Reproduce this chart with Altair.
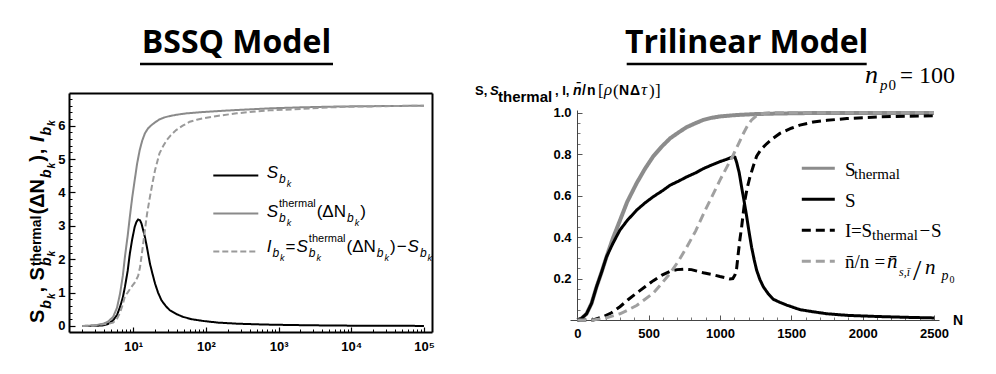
import altair as alt
import pandas as pd

# ---------------- BSSQ model (left panel) ----------------
bssq_S_k = [2, 3, 3.9, 4.5, 5.3, 6, 6.6, 7.2, 7.7, 8.4, 9, 9.7, 10.5, 11.1, 11.7, 12.4, 13, 14.5,
            15.5, 17, 18.5, 20, 22, 24.5, 28, 32, 40, 49, 65, 92, 150, 265, 500, 760, 2000, 5000,
            10000, 30000, 100000]
bssq_S = [0, 0.005, 0.02, 0.06, 0.17, 0.33, 0.57, 0.85, 1.17, 1.65, 2.17, 2.6, 2.97, 3.12, 3.19,
          3.17, 3.07, 2.67, 2.35, 1.87, 1.55, 1.27, 1.0, 0.77, 0.6, 0.47, 0.35, 0.27, 0.2, 0.15,
          0.1, 0.07, 0.05, 0.04, 0.025, 0.015, 0.01, 0.005, 0.003]
bssq_Sth_k = [2, 3, 3.9, 4.5, 5.3, 6, 6.6, 7.2, 7.7, 8.4, 9, 9.7, 10.5, 11.3, 12.3, 13.3, 14.5, 16,
              17.9, 20, 23, 27, 32, 40, 54, 92, 150, 265, 500, 760, 2000, 5000, 10000, 30000, 100000]
bssq_Sth = [0, 0.02, 0.07, 0.13, 0.27, 0.55, 0.97, 1.5, 2.07, 2.7, 3.27, 3.85, 4.37, 4.85, 5.27,
            5.55, 5.77, 5.92, 6.02, 6.1, 6.19, 6.25, 6.29, 6.33, 6.37, 6.41, 6.44, 6.47, 6.5, 6.52,
            6.55, 6.57, 6.58, 6.59, 6.6]
bssq_I_k = [2, 3, 3.9, 4.5, 5.3, 6, 6.6, 7.2, 7.7, 8.4, 9, 9.7, 10.5, 11.1, 11.7, 12.4, 13, 14.5,
            15.5, 17, 18.5, 20, 23, 26, 29, 33, 39, 48, 60, 75, 92, 150, 265, 500, 760, 2000, 5000,
            10000, 30000, 100000]
bssq_I = [0, 0.015, 0.05, 0.07, 0.1, 0.22, 0.4, 0.65, 0.9, 1.0, 1.1, 1.2, 1.3, 1.4, 1.5, 1.75,
          2.07, 2.87, 3.35, 3.87, 4.3, 4.67, 5.17, 5.4, 5.57, 5.72, 5.87, 6.0, 6.12, 6.18, 6.22,
          6.3, 6.37, 6.43, 6.46, 6.5, 6.55, 6.57, 6.585, 6.6]

# ---------------- Trilinear model (right panel) ----------------
tri_S_N = [0, 30, 65, 100, 135, 170, 205, 250, 299, 350, 416, 475, 533, 600, 650, 710, 766, 830,
           883, 940, 1000, 1050, 1093, 1105, 1117, 1135, 1152, 1170, 1187, 1205, 1222, 1240, 1257,
           1280, 1304, 1340, 1374, 1420, 1467, 1560, 1650, 1750, 1900, 2100, 2300, 2500]
tri_S = [0, 0.008, 0.03, 0.08, 0.16, 0.23, 0.305, 0.37, 0.434, 0.48, 0.53, 0.565, 0.595, 0.625,
         0.65, 0.67, 0.69, 0.71, 0.73, 0.747, 0.764, 0.776, 0.788, 0.785, 0.76, 0.71, 0.64, 0.57,
         0.5, 0.42, 0.35, 0.29, 0.24, 0.195, 0.16, 0.125, 0.1, 0.085, 0.072, 0.05, 0.04, 0.03,
         0.022, 0.017, 0.013, 0.01]
tri_Sth_N = [0, 30, 65, 100, 135, 170, 205, 250, 299, 350, 416, 475, 533, 590, 650, 710, 766, 830,
             883, 940, 1000, 1100, 1234, 1400, 1600, 2000, 2500]
tri_Sth = [0, 0.008, 0.03, 0.08, 0.16, 0.23, 0.305, 0.395, 0.48, 0.57, 0.66, 0.73, 0.79, 0.835,
           0.876, 0.905, 0.93, 0.95, 0.965, 0.975, 0.982, 0.988, 0.993, 0.996, 0.998, 0.998, 0.998]
tri_I_N = [0, 112, 182, 240, 299, 360, 416, 475, 533, 590, 650, 700, 743, 800, 883, 940, 1000,
           1040, 1070, 1090, 1105, 1117, 1128, 1140, 1152, 1164, 1175, 1192, 1210, 1235, 1257,
           1290, 1327, 1370, 1420, 1500, 1560, 1654, 1750, 1889, 2121, 2300, 2500]
tri_I = [0, 0, 0.016, 0.035, 0.064, 0.1, 0.13, 0.16, 0.19, 0.215, 0.235, 0.243, 0.245, 0.243,
         0.228, 0.22, 0.21, 0.204, 0.198, 0.2, 0.217, 0.25, 0.32, 0.39, 0.45, 0.52, 0.58, 0.64,
         0.69, 0.745, 0.79, 0.825, 0.85, 0.875, 0.9, 0.925, 0.94, 0.955, 0.963, 0.972, 0.98,
         0.983, 0.985]
tri_nbar_N = [0, 112, 200, 299, 360, 416, 475, 533, 590, 650, 710, 766, 830, 883, 940, 1000, 1050,
              1093, 1130, 1164, 1195, 1222, 1255, 1292, 1350, 1500, 2000, 2500]
tri_nbar = [0, 0, 0.01, 0.03, 0.05, 0.07, 0.1, 0.13, 0.175, 0.225, 0.285, 0.35, 0.43, 0.51, 0.59,
            0.675, 0.74, 0.796, 0.85, 0.9, 0.94, 0.965, 0.985, 0.995, 1.0, 1.0, 1.0, 1.0]

left_names = ["S_bk", "S_bk^thermal(ΔN_bk)", "I_bk=S_bk^thermal(ΔN_bk)−S_bk"]
left_colors = ["#000000", "#8a8a8a", "#9a9a9a"]
left_dashes = [[1, 0], [1, 0], [6, 3]]
right_names = ["S_thermal", "S", "I=S_thermal−S", "n̄/n"]
right_colors = ["#8c8c8c", "#000000", "#000000", "#a0a0a0"]
right_dashes = [[1, 0], [1, 0], [9, 5], [9, 5]]

panel_titles = ["BSSQ Model", "Trilinear Model"]

# ---------------- layout (page pixels -> chart pixels) ----------------
W, H = 980, 358
SANS, SERIF = "Liberation Sans", "Liberation Serif"


def P(v):
    return v - 8


LX = alt.Scale(type="log", domain=[1.31, 129000], range=[P(69), P(432)], nice=False)
LY = alt.Scale(domain=[-0.18, 6.98], range=[P(332), P(93)], nice=False, zero=False)
RX = alt.Scale(domain=[-51, 2535], range=[P(570), P(939)], nice=False, zero=False)
RY = alt.Scale(domain=[0, 1.013], range=[P(320), P(110)], nice=False, zero=False)

left_df = pd.concat([
    pd.DataFrame({"k": bssq_S_k, "v": bssq_S, "series": left_names[0]}),
    pd.DataFrame({"k": bssq_Sth_k, "v": bssq_Sth, "series": left_names[1]}),
    pd.DataFrame({"k": bssq_I_k, "v": bssq_I, "series": left_names[2]}),
], ignore_index=True)
right_df = pd.concat([
    pd.DataFrame({"N": tri_Sth_N, "v": tri_Sth, "series": right_names[0]}),
    pd.DataFrame({"N": tri_S_N, "v": tri_S, "series": right_names[1]}),
    pd.DataFrame({"N": tri_I_N, "v": tri_I, "series": right_names[2]}),
    pd.DataFrame({"N": tri_nbar_N, "v": tri_nbar, "series": right_names[3]}),
], ignore_index=True)

LABEL = dict(labelFont=SANS, labelFontWeight="bold", labelFontSize=13, labelColor="black",
             grid=False, title=None, labelOverlap=False, labelFlush=False)
TICKS = dict(labels=False, domain=False, grid=False, title=None, ticks=True)


def guide_layer(xs, ys, xdom, ydom, xaxis, yaxis):
    d = pd.DataFrame({"x": xdom, "y": ydom})
    return alt.Chart(d).mark_point(opacity=0).encode(
        x=alt.X("x:Q", scale=xs, axis=xaxis), y=alt.Y("y:Q", scale=ys, axis=yaxis))


LXD, LYD = [1.31, 129000], [-0.18, 6.98]
RXD, RYD = [-51, 2535], [0, 1.013]
lx_major = [10, 100, 1000, 10000, 100000]
lx_minor = [m * d for d in [1, 10, 100, 1000, 10000] for m in range(2, 10)]
ly_major = list(range(7))
ly_minor = [round(i * 0.2, 1) for i in range(35) if i % 5]
rx_major = list(range(0, 2501, 500))
rx_minor = [v for v in range(0, 2501, 100) if v % 500]
ry_major = [0.2, 0.4, 0.6, 0.8, 1.0]
ry_minor = [round(i * 0.05, 2) for i in range(21) if i % 4]

sup_expr = "'10' + ['\u2070','\u00b9','\u00b2','\u00b3','\u2074','\u2075'][round(log(datum.value)/LN10)]"

layers = []
# left frame top/right lines
layers.append(guide_layer(LX, LY, LXD, LYD,
    alt.Axis(orient="bottom", offset=P(93) - H, labels=False, ticks=False, tickSize=0, grid=False,
             title=None, domainColor="black", domainWidth=2),
    alt.Axis(orient="left", offset=-P(432), labels=False, ticks=False, tickSize=0, grid=False,
             title=None, domainColor="black", domainWidth=2)))
# left inward ticks
layers.append(guide_layer(LX, LY, LXD, LYD,
    alt.Axis(orient="top", offset=-P(332), values=lx_major, tickSize=5, tickColor="black", tickWidth=1.2, **TICKS),
    alt.Axis(orient="right", offset=P(69) - W, values=ly_major, tickSize=6, tickColor="black", tickWidth=1.2, **TICKS)))
layers.append(guide_layer(LX, LY, LXD, LYD,
    alt.Axis(orient="top", offset=-P(332), values=lx_minor, tickSize=3, tickColor="black", tickWidth=1, **TICKS),
    alt.Axis(orient="right", offset=P(69) - W, values=ly_minor, tickSize=3, tickColor="black", tickWidth=1, **TICKS)))
# right inward ticks
layers.append(guide_layer(RX, RY, RXD, RYD,
    alt.Axis(orient="top", offset=-P(320), values=rx_major, tickSize=5, tickColor="#555", tickWidth=1, **TICKS),
    alt.Axis(orient="right", offset=P(577) - W, values=ry_major, tickSize=5, tickColor="#555", tickWidth=1, **TICKS)))
layers.append(guide_layer(RX, RY, RXD, RYD,
    alt.Axis(orient="top", offset=-P(320), values=rx_minor, tickSize=3, tickColor="#777", tickWidth=1, **TICKS),
    alt.Axis(orient="right", offset=P(577) - W, values=ry_minor, tickSize=3, tickColor="#777", tickWidth=1, **TICKS)))

# legends: one row per entry, row height = labelFontSize (legend's own labels are empty,
# the rich-text labels are drawn separately)
L_STEP, R_STEP = 36.75, 30.45
left_legend = alt.Legend(orient="none", legendX=P(235.8) - L_STEP / 2, legendY=P(175.5) - L_STEP / 2,
                         title=None, symbolType="M-3,0H3", symbolSize=225, symbolStrokeWidth=2,
                         labelExpr="''", labelFontSize=L_STEP, rowPadding=0, padding=0,
                         symbolOffset=0)
right_legend = alt.Legend(orient="none", legendX=P(818.3) - R_STEP / 2, legendY=P(168.3) - R_STEP / 2,
                          title=None, symbolType="M-3,0H3", symbolSize=121, symbolStrokeWidth=3,
                          labelExpr="''", labelFontSize=R_STEP, rowPadding=0, padding=0,
                          symbolOffset=0)

left_lines = alt.Chart(left_df).mark_line(strokeWidth=2).encode(
    x=alt.X("k:Q", scale=LX, axis=alt.Axis(orient="bottom", offset=P(332) - H, values=lx_major,
            labelExpr=sup_expr, ticks=False, tickSize=0, domainColor="black", domainWidth=2,
            labelPadding=8, **LABEL)),
    y=alt.Y("v:Q", scale=LY, axis=alt.Axis(orient="left", offset=-P(69), values=ly_major, format="d",
            ticks=False, tickSize=0, domainColor="black", domainWidth=2, labelPadding=4, **LABEL)),
    color=alt.Color("series:N", scale=alt.Scale(domain=left_names, range=left_colors), legend=left_legend),
    strokeDash=alt.StrokeDash("series:N", scale=alt.Scale(domain=left_names, range=left_dashes), legend=left_legend),
)
right_lines = alt.Chart(right_df).mark_line().encode(
    x=alt.X("N:Q", scale=RX, axis=alt.Axis(orient="bottom", offset=P(320) - H, values=rx_major, format="d",
            ticks=False, tickSize=0, domainColor="#444", domainWidth=1, labelPadding=7, **LABEL)),
    y=alt.Y("v:Q", scale=RY, axis=alt.Axis(orient="left", offset=-P(577), values=ry_major, format=".1f",
            ticks=False, tickSize=0, domainColor="#444", domainWidth=1, labelPadding=6, **LABEL)),
    color=alt.Color("series:N", scale=alt.Scale(domain=right_names, range=right_colors), legend=right_legend),
    strokeDash=alt.StrokeDash("series:N", scale=alt.Scale(domain=right_names, range=right_dashes), legend=right_legend),
    strokeWidth=alt.condition(alt.datum.series == right_names[0], alt.value(4), alt.value(3)),
)
layers += [left_lines, right_lines]

# ---------------- rich text (sub/superscripts) ----------------
SANS_R = {" ": .278, ",": .278, "(": .333, ")": .333, "=": .584, "\u2212": .584, "\u0394": .668,
          "S": .667, "I": .278, "N": .722, "a": .556, "b": .556, "e": .556, "h": .556, "k": .5,
          "l": .222, "m": .833, "r": .333, "t": .278}
SANS_B = {" ": .278, ",": .278, "(": .333, ")": .333, "\u0394": .722, "S": .667, "I": .278,
          "N": .722, "a": .556, "b": .611, "e": .556, "h": .611, "k": .556, "l": .278, "m": .889,
          "r": .389, "t": .333}
GAP = 1.0


def tw(text, bold, size):
    tab = SANS_B if bold else SANS_R
    return sum(tab.get(c, .56) for c in text) * size


pieces = []


def piece(t, x, y, s, font=SANS, weight="normal", style="normal", angle=0):
    pieces.append(dict(t=t, x=P(x), y=P(y), s=s, font=font, weight=weight, style=style, angle=angle))


def run(tokens, x0, y0, vertical=False):
    x = saved = reach = 0.0
    for tok in tokens:
        if tok == "SAVE":
            saved = x
            continue
        if tok == "BACK":
            reach, x = x, saved
            continue
        if tok == "MAX":
            x = max(x, reach)
            continue
        text, bold, italic, size, shift = tok
        if vertical:
            px, py = x0 + shift, y0 - x
        else:
            px, py = x0 + x, y0 + shift
        piece(text, px, py, size, SANS, "bold" if bold else "normal", "italic" if italic else "normal",
              270 if vertical else 0)
        x += tw(text, bold, size) + GAP


# left legend labels
S_ = ("S", False, True, 17, 0)
I_ = ("I", False, True, 17, 0)
b_ = ("b", False, True, 12, 5)
k_ = ("k", False, True, 9, 9)
th_ = ("thermal", False, False, 11, -10.5)
run([S_, b_, k_], 266.7, 178)
run([S_, "SAVE", b_, k_, "BACK", th_, "MAX", ("(\u0394N", False, False, 17, 0), b_, k_,
     (")", False, False, 17, 0)], 266.7, 217)
run([I_, b_, k_, ("=", False, False, 17, 0), S_, "SAVE", b_, k_, "BACK", th_, "MAX",
     ("(\u0394N", False, False, 17, 0), b_, k_, (")", False, False, 17, 0),
     ("\u2212", False, False, 17, 0), S_, b_, k_], 266.7, 252)

# left y-axis title (rotated)
YS = ("S", True, False, 20, 0)
yb = ("b", True, True, 14, 7.5)
yk = ("k", True, True, 10, 11)
run([YS, yb, yk, (", ", True, False, 20, 0), YS, "SAVE", yb, yk, "BACK",
     ("thermal", True, False, 14, -3), "MAX", ("(\u0394N", True, False, 20, 0), yb, yk,
     (")", True, False, 20, 0), (", ", True, False, 20, 0), ("I", True, True, 20, 0), yb, yk],
    43.5, 323, vertical=True)

# right y-axis title
piece("S,", 475, 95, 13, SANS, "bold")
piece("S", 490, 95, 13, SANS, "bold", "italic")
piece("thermal", 498, 101.5, 15, SANS, "bold")
piece(", I,", 555, 95, 13, SANS, "bold")
piece("n\u0304", 573, 95, 14, SANS, "bold", "italic")
piece("/", 582, 95, 14, SANS, "bold")
piece("n", 587, 95, 14, SANS, "bold")
piece("[", 598, 96, 17, SERIF)
piece("\u03c1", 604, 95, 17, SERIF, "normal", "italic")
piece("(", 613, 96, 17, SERIF)
piece("N", 619, 95, 14, SANS, "bold")
piece("\u0394", 630, 95, 14, SANS, "bold")
piece("\u03c4", 641, 95, 17, SERIF, "normal", "italic")
piece(")", 649, 96, 17, SERIF)
piece("]", 655, 96, 17, SERIF)
piece("N", 953, 325, 14, SANS, "bold")

# n_p0 = 100
piece("n", 865, 83, 26, SERIF, "normal", "italic")
piece("p", 880, 90, 15, SERIF, "normal", "italic")
piece("0", 888.5, 90, 15, SERIF)
piece("=", 900, 83, 23, SERIF)
piece("100", 919, 83, 24, SERIF)

# right legend labels
piece("S", 845, 176, 19, SERIF)
piece("thermal", 854, 179, 15, SERIF)
piece("S", 845, 207, 19, SERIF)
piece("I", 845, 237, 19, SERIF)
piece("=", 851, 237, 19, SERIF)
piece("S", 861.5, 237, 19, SERIF)
piece("thermal", 872, 240, 15, SERIF)
piece("\u2212", 919.5, 237, 19, SERIF)
piece("S", 931, 237, 19, SERIF)
piece("n\u0304/n", 845, 267.5, 19, SERIF)
piece("=", 874.5, 267.5, 19, SERIF)
piece("n\u0304", 887, 268, 21, SERIF, "normal", "italic")
piece("s,\u012b", 899, 276, 12, SERIF, "normal", "italic")
piece("/", 913, 280, 30, SERIF)
piece("n", 925, 274, 21, SERIF, "normal", "italic")
piece("p", 941.5, 280, 14, SERIF, "normal", "italic")
piece("0", 949.5, 283, 10, SERIF)

pdf = pd.DataFrame(pieces)
for (font, weight, style, angle), g in pdf.groupby(["font", "weight", "style", "angle"]):
    layers.append(
        alt.Chart(g.reset_index(drop=True)).mark_text(
            align="left", baseline="alphabetic", font=font, fontWeight=weight, fontStyle=style,
            angle=int(angle), color="black").encode(
            x=alt.X("x:Q", scale=None, axis=None), y=alt.Y("y:Q", scale=None, axis=None),
            text="t:N", size=alt.Size("s:Q", scale=None, legend=None)))

# panel titles with underline
title_df = pd.DataFrame({"t": panel_titles, "x": [P(236.5), P(746.7)], "y": [P(52.7), P(52.7)]})
layers.append(alt.Chart(title_df).mark_text(font="Open Sans", fontWeight="bold", fontSize=32,
                                            align="center", baseline="alphabetic", color="black").encode(
    x=alt.X("x:Q", scale=None, axis=None), y=alt.Y("y:Q", scale=None, axis=None), text="t:N"))
ul_df = pd.DataFrame({"x": [P(140), P(626.7)], "x2": [P(333), P(866.7)], "y": [P(64), P(64)]})
layers.append(alt.Chart(ul_df).mark_rule(strokeWidth=2.5, color="black").encode(
    x=alt.X("x:Q", scale=None, axis=None), x2="x2:Q", y=alt.Y("y:Q", scale=None, axis=None)))

chart = alt.layer(*layers).resolve_scale(
    x="independent", y="independent", color="independent", strokeDash="independent"
).resolve_axis(x="independent", y="independent").resolve_legend(
    color="independent", strokeDash="independent"
).properties(
    width=W, height=H, padding=0, background="white", autosize=alt.AutoSizeParams(type="none")
).configure_view(stroke=None)

chart.save("out.html", embed_options={"renderer": "svg", "actions": False})
